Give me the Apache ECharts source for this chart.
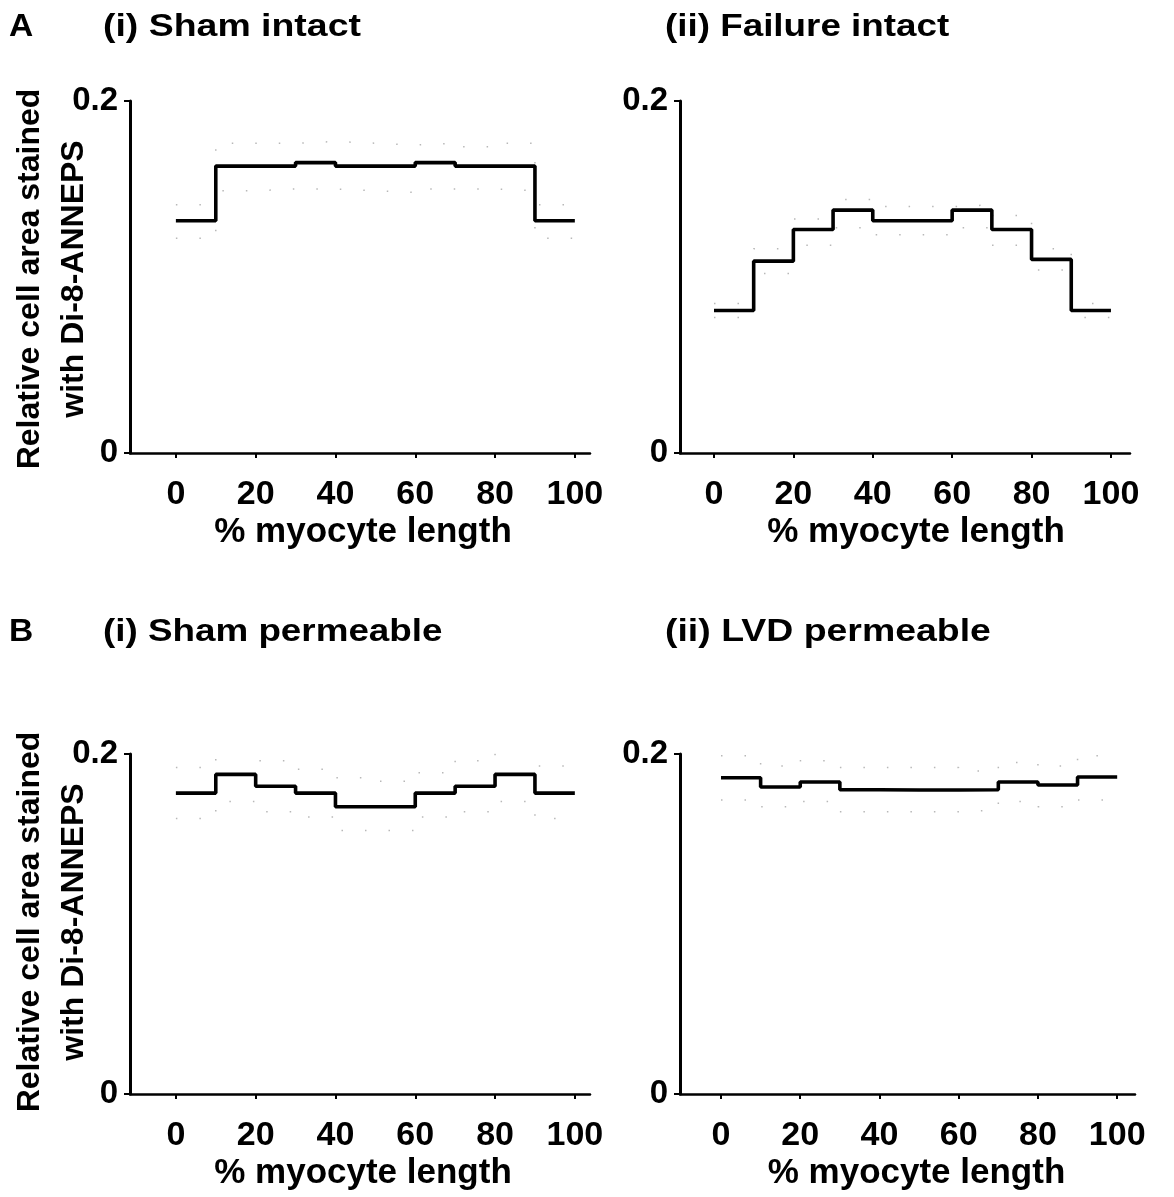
<!DOCTYPE html>
<html>
<head>
<meta charset="utf-8">
<script src="https://cdn.jsdelivr.net/npm/echarts@6/dist/echarts.min.js"></script>
<style>
html,body{margin:0;padding:0;background:#fff;}
#chart{width:1174px;height:1197px;}
</style>
</head>
<body>
<div id="chart"></div>
<script>
// Bin edges (% myocyte length)
const binStarts = [0, 10, 20, 30, 40, 50, 60, 70, 80, 90];
const binEnd = 100;
const xTicks = [0, 20, 40, 60, 80, 100];
const yTickLabels = ['0', '0.2'];

// Panel titles
const panelTitles = ['(i) Sham intact', '(ii) Failure intact', '(i) Sham permeable', '(ii) LVD permeable'];
const sectionLetters = ['A', 'B'];
const xAxisTitle = '% myocyte length';
const yAxisTitle = 'Relative cell area stained\nwith Di-8-ANNEPS';

// A (i) Sham intact
const shamIntactMean  = [0.132, 0.163, 0.163, 0.165, 0.163, 0.163, 0.165, 0.163, 0.163, 0.132];
const shamIntactUpper = [0.141, 0.176, 0.176, 0.177, 0.176, 0.175, 0.176, 0.174, 0.176, 0.141];
const shamIntactLower = [0.122, 0.149, 0.150, 0.150, 0.149, 0.148, 0.150, 0.150, 0.149, 0.122];

// A (ii) Failure intact
const failIntactMean  = [0.081, 0.109, 0.127, 0.138, 0.132, 0.132, 0.138, 0.127, 0.110, 0.081];
const failIntactUpper = [0.085, 0.116, 0.133, 0.144, 0.140, 0.140, 0.141, 0.135, 0.116, 0.085];
const failIntactLower = [0.077, 0.102, 0.118, 0.128, 0.124, 0.124, 0.128, 0.118, 0.104, 0.077];

// B (i) Sham permeable
const shamPermMean  = [0.177, 0.188, 0.181, 0.177, 0.169, 0.169, 0.177, 0.181, 0.188, 0.177];
const shamPermUpper = [0.192, 0.204, 0.196, 0.191, 0.186, 0.184, 0.189, 0.196, 0.204, 0.193];
const shamPermLower = [0.162, 0.172, 0.166, 0.163, 0.155, 0.155, 0.163, 0.166, 0.172, 0.162];

// B (ii) LVD permeable
const lvdPermMean  = [0.186, 0.1806, 0.1835, 0.179, 0.1788, 0.1788, 0.179, 0.1835, 0.1818, 0.1865];
const lvdPermUpper = [0.199, 0.193, 0.196, 0.192, 0.192, 0.192, 0.190, 0.195, 0.193, 0.199];
const lvdPermLower = [0.173, 0.169, 0.172, 0.166, 0.166, 0.166, 0.167, 0.172, 0.169, 0.173];

const FONT = '"Liberation Sans", Arial, sans-serif';

function stepData(vals) {
  const d = binStarts.map((x, i) => [x, vals[i]]);
  d.push([binEnd, vals[vals.length - 1]]);
  return d;
}

const grids = [
  {left: 130, top: 101, width: 460, height: 352},
  {left: 680, top: 101, width: 450, height: 352},
  {left: 130, top: 754, width: 460, height: 340},
  {left: 680, top: 754, width: 455, height: 340}
];
const xRanges = [[-11.5, 103.8], [-8.56, 104.8], [-11.5, 103.8], [-10.35, 104.5]];
const namePad = [[0, 0, 0, 6], [0, 0, 0, 22], [0, 0, 0, 6], [0, 0, 0, 18]];
const panels = [
  [shamIntactMean, shamIntactUpper, shamIntactLower],
  [failIntactMean, failIntactUpper, failIntactLower],
  [shamPermMean, shamPermUpper, shamPermLower],
  [lvdPermMean, lvdPermUpper, lvdPermLower]
];

const chart = echarts.init(document.getElementById('chart'), null, {renderer: 'canvas'});

const xAxes = grids.map((g, i) => ({
  gridIndex: i, type: 'value', min: xRanges[i][0], max: xRanges[i][1],
  name: xAxisTitle, nameLocation: 'middle', nameGap: 62,
  nameTextStyle: {fontFamily: FONT, fontWeight: 'bold', fontSize: 35, color: '#000', padding: namePad[i]},
  axisLine: {show: true, onZero: false, lineStyle: {color: '#000', width: 2.5}},
  axisTick: {show: true, customValues: xTicks, length: 5, lineStyle: {color: '#000', width: 2}},
  axisLabel: {customValues: xTicks, margin: 25, fontFamily: FONT, fontWeight: 'bold', fontSize: 34, color: '#000'},
  splitLine: {show: false}
}));

const yAxes = grids.map((g, i) => ({
  gridIndex: i, type: 'value', min: 0, max: 0.2, interval: 0.2,
  axisLine: {show: true, onZero: false, lineStyle: {color: '#000', width: 3}},
  axisTick: {show: true, length: 6, lineStyle: {color: '#000', width: 2}},
  axisLabel: {margin: 12, fontFamily: FONT, fontWeight: 'bold', fontSize: 33, color: '#000',
    formatter: v => (v === 0 ? yTickLabels[0] : yTickLabels[1])},
  splitLine: {show: false}
}));

const series = [];
panels.forEach((p, i) => {
  [p[1], p[2]].forEach(arr => {
    series.push({
      type: 'line', xAxisIndex: i, yAxisIndex: i, step: 'end', data: stepData(arr),
      symbol: 'none', silent: true,
      lineStyle: {color: '#b8b8b8', width: 1.5, type: [1.5, 22]}
    });
  });
  series.push({
    type: 'line', xAxisIndex: i, yAxisIndex: i, step: 'end', data: stepData(p[0]),
    symbol: 'none', silent: true,
    lineStyle: {color: '#000', width: 3.6}
  });
});

function titleText(txt, x, y, sx) {
  return {type: 'text', x: x, y: y, scaleX: sx,
    style: {text: txt, fontFamily: FONT, fontWeight: 'bold', fontSize: 32, fill: '#000',
      align: 'left', verticalAlign: 'top'}};
}
const ylabStyle = {text: yAxisTitle, fontFamily: FONT, fontWeight: 'bold', fontSize: 32, fill: '#000',
  align: 'center', verticalAlign: 'middle', lineHeight: 44};
const graphic = [
  titleText(sectionLetters[0], 9, 11, 1.05),
  titleText(panelTitles[0], 103, 11, 1.17),
  titleText(panelTitles[1], 665, 11, 1.15),
  titleText(sectionLetters[1], 9, 616, 1.05),
  titleText(panelTitles[2], 103, 616, 1.15),
  titleText(panelTitles[3], 665, 616, 1.17),
  {type: 'text', x: 52, y: 279, rotation: Math.PI / 2, style: ylabStyle},
  {type: 'text', x: 52, y: 922, rotation: Math.PI / 2, style: ylabStyle}
];

chart.setOption({
  animation: false,
  backgroundColor: '#fff',
  grid: grids,
  xAxis: xAxes,
  yAxis: yAxes,
  series: series,
  graphic: graphic
});
</script>
</body>
</html>
